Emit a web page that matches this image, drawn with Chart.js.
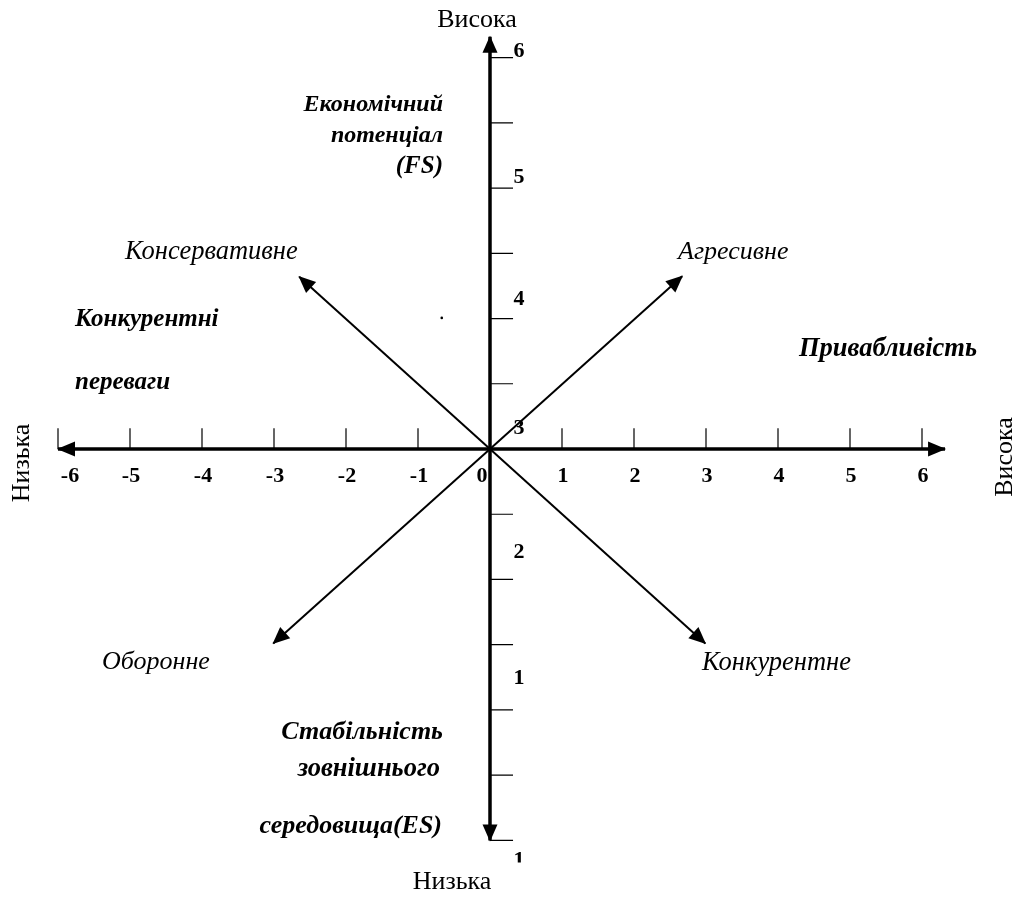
<!DOCTYPE html>
<html>
<head>
<meta charset="utf-8">
<script src="https://cdn.jsdelivr.net/npm/chart.js@4.4.0/dist/chart.umd.min.js"></script>
<style>
  html, body { margin: 0; padding: 0; background: #fff; }
  canvas { display: block; }
</style>
</head>
<body>
<canvas id="space" width="1016" height="899"></canvas>
<script>
// SPACE matrix: axis ticks, labels and strategy vectors
var xTickValues = [-6, -5, -4, -3, -2, -1, 1, 2, 3, 4, 5, 6];
var xLabelValues = [-6, -5, -4, -3, -2, -1, 0, 1, 2, 3, 4, 5, 6];
var xLabelTexts = ['-6', '-5', '-4', '-3', '-2', '-1', '0', '1', '2', '3', '4', '5', '6'];
var yTickValues = [6, 5, 4, 3, 2, 1, -1, -2, -3, -4, -5, -6];
var yLabelValues = [6.09, 4.16, 2.29, 0.32, -1.58, -3.51, -6.31];
var yLabelTexts = ['6', '5', '4', '3', '2', '1', '1'];
var strategyNames = ['Агресивне', 'Консервативне', 'Оборонне', 'Конкурентне'];
var strategyX = [2.67, -2.65, -3.01, 2.99];
var strategyY = [2.65, 2.64, -2.98, -2.98];
var xAxisEnds = [-6, 6.32];
var yAxisEnds = [-6, 6.32];
var strayDot = [{x: -0.67, y: 2.01}];

var SERIF = '"Liberation Serif", "Times New Roman", serif';

// short tick segments, broken apart with null points
function xTickSegments() {
  var out = [];
  xTickValues.forEach(function (v) {
    out.push({x: v, y: 0}, {x: v, y: 0.32}, {x: v, y: null});
  });
  return out;
}
function yTickSegments() {
  var out = [];
  yTickValues.forEach(function (v) {
    out.push({x: 0, y: v}, {x: 0.32, y: v}, {x: null, y: v});
  });
  return out;
}

var datasets = [
  {
    label: 'x axis',
    data: [{x: xAxisEnds[0], y: 0}, {x: xAxisEnds[1], y: 0}],
    arrowEnds: ['start', 'end'], head: [18, 7.5],
    borderWidth: 3.5
  },
  {
    label: 'y axis',
    data: [{x: 0, y: yAxisEnds[0]}, {x: 0, y: yAxisEnds[1]}],
    arrowEnds: ['start', 'end'], head: [17, 7.5],
    borderWidth: 3.5
  },
  {
    label: 'x ticks',
    data: xTickSegments(),
    borderWidth: 1.2
  },
  {
    label: 'y ticks',
    data: yTickSegments(),
    borderWidth: 1.2
  }
];

strategyNames.forEach(function (name, i) {
  datasets.push({
    label: name,
    data: [{x: 0, y: 0}, {x: strategyX[i], y: strategyY[i]}],
    arrowEnds: ['end'], head: [17, 7.5],
    borderWidth: 2
  });
});

datasets.push({
  label: 'dot',
  data: strayDot,
  showLine: false,
  pointRadius: 1.3,
  pointBackgroundColor: '#000'
});

var arrowPlugin = {
  id: 'arrowHeads',
  afterDatasetsDraw: function (chart) {
    var ctx = chart.ctx;
    chart.data.datasets.forEach(function (ds, i) {
      if (!ds.arrowEnds) return;
      var pts = chart.getDatasetMeta(i).data;
      ds.arrowEnds.forEach(function (end) {
        var a, b;
        if (end === 'end') { a = pts[pts.length - 2]; b = pts[pts.length - 1]; }
        else { a = pts[1]; b = pts[0]; }
        var ang = Math.atan2(b.y - a.y, b.x - a.x);
        var len = ds.head[0], hw = ds.head[1];
        var tx = b.x + Math.cos(ang) * 1, ty = b.y + Math.sin(ang) * 1;
        var bx = tx - Math.cos(ang) * len, by = ty - Math.sin(ang) * len;
        ctx.save();
        ctx.fillStyle = '#000';
        ctx.beginPath();
        ctx.moveTo(tx, ty);
        ctx.lineTo(bx - Math.sin(ang) * hw, by + Math.cos(ang) * hw);
        ctx.lineTo(bx + Math.sin(ang) * hw, by - Math.cos(ang) * hw);
        ctx.closePath();
        ctx.fill();
        ctx.restore();
      });
    });
  }
};

// text labels of the matrix
var notes = [
  {t: 'Висока', x: 477, y: 20, f: '26px', a: 'center'},
  {t: 'Низька', x: 452, y: 882, f: '26px', a: 'center'},
  {t: 'Низька', x: 22, y: 463, f: '26px', a: 'center', rot: -90},
  {t: 'Висока', x: 1005, y: 457, f: '26px', a: 'center', rot: -90},
  {t: strategyNames[0], x: 678, y: 252, f: 'italic 26px', a: 'left'},
  {t: strategyNames[1], x: 125, y: 252, f: 'italic 26.5px', a: 'left'},
  {t: strategyNames[2], x: 102, y: 662, f: 'italic 26px', a: 'left'},
  {t: strategyNames[3], x: 702, y: 663, f: 'italic 26.5px', a: 'left'},
  {t: 'Економічний', x: 443, y: 105, f: 'italic bold 24px', a: 'right'},
  {t: 'потенціал', x: 443, y: 136, f: 'italic bold 24px', a: 'right'},
  {t: '(FS)', x: 443, y: 167, f: 'italic bold 25px', a: 'right'},
  {t: 'Конкурентні', x: 75, y: 320, f: 'italic bold 25px', a: 'left'},
  {t: 'переваги', x: 75, y: 383, f: 'italic bold 25px', a: 'left'},
  {t: 'Привабливість', x: 977, y: 349, f: 'italic bold 26.5px', a: 'right'},
  {t: 'Стабільність', x: 443, y: 732, f: 'italic bold 26px', a: 'right'},
  {t: 'зовнішнього', x: 440, y: 769, f: 'italic bold 26.5px', a: 'right'},
  {t: 'середовища(ES)', x: 442, y: 826, f: 'italic bold 26px', a: 'right'}
];

var labelPlugin = {
  id: 'matrixLabels',
  afterDraw: function (chart) {
    var ctx = chart.ctx;
    var sx = chart.scales.x, sy = chart.scales.y;
    var ox = sx.getPixelForValue(0), oy = sy.getPixelForValue(0);
    ctx.save();
    ctx.fillStyle = '#000';
    ctx.textBaseline = 'middle';

    // numbers under the horizontal axis
    ctx.font = 'bold 22px ' + SERIF;
    ctx.textAlign = 'center';
    xLabelValues.forEach(function (v, i) {
      var nudge = v === -6 ? 12 : (v === 0 ? -8 : 1);
      ctx.fillText(xLabelTexts[i], sx.getPixelForValue(v) + nudge, oy + 27);
    });

    // numbers right of the vertical axis
    yLabelValues.forEach(function (v, i) {
      var py = sy.getPixelForValue(v);
      ctx.save();
      if (i === yLabelValues.length - 1) {
        ctx.beginPath();
        ctx.rect(0, 0, chart.width, py + 2);
        ctx.clip();
      }
      ctx.fillText(yLabelTexts[i], ox + 29, py);
      ctx.restore();
    });

    notes.forEach(function (n) {
      ctx.save();
      ctx.font = n.f + ' ' + SERIF;
      ctx.textAlign = n.a;
      ctx.translate(n.x, n.y);
      if (n.rot) ctx.rotate(n.rot * Math.PI / 180);
      ctx.fillText(n.t, 0, 0);
      ctx.restore();
    });
    ctx.restore();
  }
};

new Chart(document.getElementById('space'), {
  type: 'scatter',
  data: { datasets: datasets },
  options: {
    responsive: false,
    animation: false,
    layout: { padding: { left: 22, right: 58, top: 25, bottom: 26 } },
    elements: {
      line: { borderColor: '#000', tension: 0, fill: false, borderCapStyle: 'butt' },
      point: { radius: 0, hoverRadius: 0, borderWidth: 0 }
    },
    datasets: { scatter: { showLine: true, spanGaps: false } },
    scales: {
      x: { type: 'linear', min: -6.5, max: 6.5, display: false },
      y: { type: 'linear', min: -6.5, max: 6.5, display: false }
    },
    plugins: {
      legend: { display: false },
      tooltip: { enabled: false }
    }
  },
  plugins: [arrowPlugin, labelPlugin]
});
</script>
</body>
</html>
